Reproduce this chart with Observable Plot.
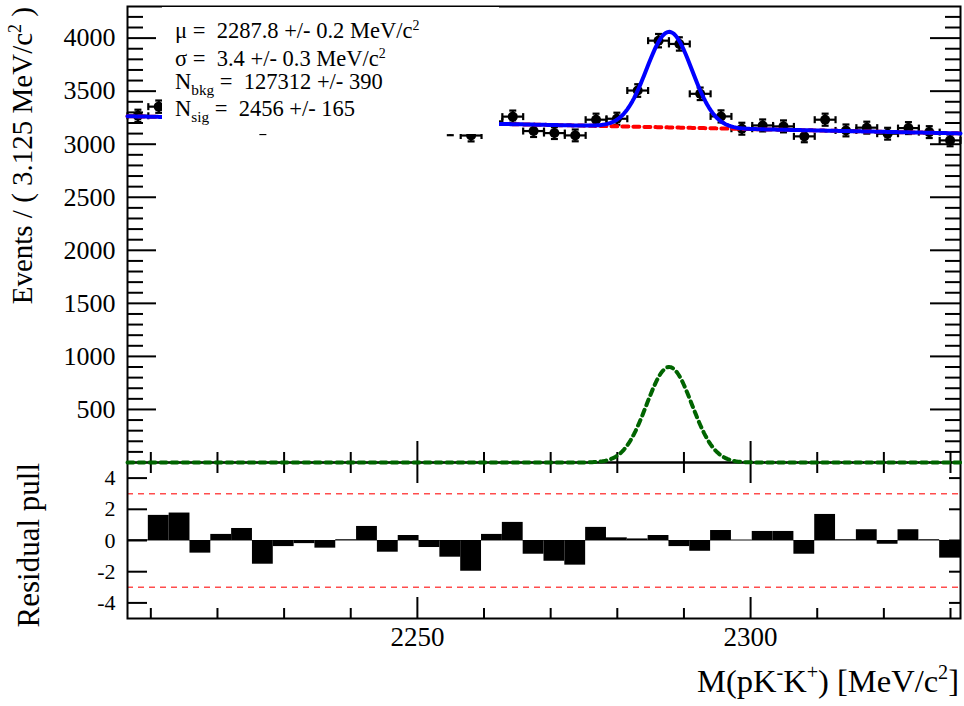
<!DOCTYPE html>
<html>
<head>
<meta charset="utf-8">
<script src="https://cdn.jsdelivr.net/npm/d3@7"></script>
<script src="https://cdn.jsdelivr.net/npm/@observablehq/plot@0.6"></script>
<style>
  html, body { margin: 0; padding: 0; background: white; }
  #chart {
    position: relative; width: 964px; height: 706px; overflow: hidden;
    background: white; color: black;
    font-family: "Liberation Serif", "Times New Roman", serif;
  }
  #chart svg { position: absolute; left: 0; }
  .txt { position: absolute; white-space: nowrap; line-height: 1; }
  .stat { line-height: 0.8; }
  .rot { transform-origin: 0 0; transform: rotate(-90deg); text-align: right; }
  .sup { position: relative; font-size: 62%; top: -0.62em; }
  .sub { position: relative; font-size: 68%; top: 0.38em; }
  #statbox { position: absolute; background: white; }
</style>
</head>
<body>
<div id="chart"></div>
<script>
// Binned invariant-mass spectrum
const massMin = 2206.5;
const massMax = 2331.5;
const binWidth = 3.125;

// Events per bin
const counts = [
  3268, 3354, 3355, 3204, 3268, 3286, 3152, 3211, 3218, 3198,
  3224, 3268, 3171, 3228, 3180, 3141, 3082, 3215, 3260, 3124,
  3105, 3083, 3231, 3240, 3506, 3976, 3945, 3475, 3262, 3146,
  3177, 3168, 3074, 3231, 3130, 3156, 3099, 3152, 3114, 3036
];

// Residual pull per bin
const pulls = [
  0.05, 1.61, 1.76, -0.81, 0.39, 0.77, -1.52, -0.39, -0.20, -0.49,
  0.05, 0.90, -0.75, 0.32, -0.45, -1.07, -1.97, 0.39, 1.16, -0.88,
  -1.33, -1.58, 0.84, 0.17, 0.10, 0.32, -0.39, -0.69, 0.64, 0.03,
  0.58, 0.58, -0.88, 1.67, 0.05, 0.69, -0.24, 0.69, 0.05, -1.13
];

// Fit results (Gaussian signal + linear background)
const fitMu = 2287.8, fitMuErr = 0.2;
const fitSigma = 3.4, fitSigmaErr = 0.3;
const fitNBkg = 127312, fitNBkgErr = 390;
const fitNSig = 2456, fitNSigErr = 165;
const bkgSlope = -1.296; // events per bin, per MeV/c^2

// Axis ticks
const xMajorTicks = [2250, 2300];
const xMinorTicks = [2210, 2220, 2230, 2240, 2260, 2270, 2280, 2290, 2310, 2320, 2330];
const yMajorTicks = [500, 1000, 1500, 2000, 2500, 3000, 3500, 4000];
const yMinorTicks = d3.range(100, 4300, 100).filter(v => v % 500 !== 0);
const pullTicks = [-4, -2, 0, 2, 4];
const pullBands = [-3, 3];

// ---------------------------------------------------------------
const bins = counts.map((n, i) => {
  const lo = massMin + i * binWidth;
  return {lo, hi: lo + binWidth, mid: lo + binWidth / 2, n, err: Math.sqrt(n), pull: pulls[i]};
});

const massCenter = (massMin + massMax) / 2;
const bkgModel = m => fitNBkg / counts.length + bkgSlope * (m - massCenter);
const sigModel = m => {
  const z = (m - fitMu) / fitSigma;
  return fitNSig * binWidth / (fitSigma * Math.sqrt(2 * Math.PI)) * Math.exp(-0.5 * z * z);
};
const curve = d3.range(massMin, massMax + 1e-9, 0.25).map(m => ({
  m, bkg: bkgModel(m), sig: sigModel(m), total: bkgModel(m) + sigModel(m)
}));

const serif = '"Liberation Serif", "Times New Roman", serif';
const W = 964, ML = 127, MR = 4;
const innerW = W - ML - MR;
const fmt = d => String(d);
const tickStyle = {stroke: "black", strokeWidth: 2};

// end caps of the error bars
const capV = {draw(ctx) { ctx.moveTo(0, -3.5); ctx.lineTo(0, 3.5); }};
const capH = {draw(ctx) { ctx.moveTo(-3.5, 0); ctx.lineTo(3.5, 0); }};
const capStyle = {fill: "none", stroke: "black", strokeWidth: 2.2};

// ---- mass spectrum with fit ----
const topH = 470, topMT = 6, topMB = 8;
const topInner = topH - topMT - topMB;

const topPlot = Plot.plot({
  width: W, height: topH,
  marginLeft: ML, marginRight: MR, marginTop: topMT, marginBottom: topMB,
  style: {background: "transparent", fontFamily: serif, color: "black", overflow: "visible"},
  x: {domain: [massMin, massMax], axis: null},
  y: {domain: [0, 4298]},
  marks: [
    Plot.frame({stroke: "black", strokeWidth: 2}),
    // y ticks, pointing inward on both sides
    Plot.tickY(yMinorTicks, {y: d => d, insetRight: innerW - 16, ...tickStyle}),
    Plot.tickY(yMajorTicks, {y: d => d, insetRight: innerW - 29, ...tickStyle}),
    Plot.tickY(yMinorTicks, {y: d => d, insetLeft: innerW - 15, ...tickStyle}),
    Plot.tickY(yMajorTicks, {y: d => d, insetLeft: innerW - 30, ...tickStyle}),
    // x ticks on the lower edge
    Plot.tickX(xMinorTicks, {x: d => d, insetTop: topInner - 10, ...tickStyle}),
    Plot.tickX(xMajorTicks, {x: d => d, insetTop: topInner - 21, ...tickStyle}),
    Plot.axisY({ticks: yMajorTicks, tickSize: 0, tickPadding: 12, tickFormat: fmt,
                fontSize: 26, fontFamily: serif, label: null}),
    // data points with error bars
    Plot.ruleY(bins, {x1: "lo", x2: "hi", y: "n", stroke: "black", strokeWidth: 2.2}),
    Plot.ruleX(bins, {x: "mid", y1: d => d.n - d.err, y2: d => d.n + d.err, stroke: "black", strokeWidth: 2.2}),
    Plot.dot(bins, {x: "lo", y: "n", symbol: capV, ...capStyle}),
    Plot.dot(bins, {x: "hi", y: "n", symbol: capV, ...capStyle}),
    Plot.dot(bins, {x: "mid", y: d => d.n - d.err, symbol: capH, ...capStyle}),
    Plot.dot(bins, {x: "mid", y: d => d.n + d.err, symbol: capH, ...capStyle}),
    Plot.dot(bins, {x: "mid", y: "n", r: 5, fill: "black"}),
    // fit components
    Plot.line(curve, {x: "m", y: "bkg", stroke: "#ff0000", strokeWidth: 4, strokeDasharray: "6,5"}),
    Plot.line(curve, {x: "m", y: "total", stroke: "#0000ff", strokeWidth: 4}),
    Plot.line(curve, {x: "m", y: "sig", stroke: "#006400", strokeWidth: 4, strokeDasharray: "6,5"})
  ]
});

// ---- residual pulls ----
const botTop = 440, botH = 266, botMT = 22, botMB = 88;
const botInner = botH - botMT - botMB;

const pullPlot = Plot.plot({
  width: W, height: botH,
  marginLeft: ML, marginRight: MR, marginTop: botMT, marginBottom: botMB,
  style: {background: "transparent", fontFamily: serif, color: "black", overflow: "visible"},
  x: {domain: [massMin, massMax]},
  y: {domain: [-5, 5]},
  marks: [
    Plot.ruleY(pullBands, {stroke: "#ff4d4d", strokeWidth: 1.5, strokeDasharray: "6,5"}),
    Plot.ruleY([0], {stroke: "#888", strokeWidth: 1}),
    Plot.rect(bins, {x1: "lo", x2: "hi", y1: 0, y2: "pull", fill: "black"}),
    Plot.frame({stroke: "black", strokeWidth: 2}),
    Plot.tickY(pullTicks, {y: d => d, insetRight: innerW - 20, ...tickStyle}),
    Plot.tickY(pullTicks, {y: d => d, insetLeft: innerW - 11, ...tickStyle}),
    Plot.tickX(xMinorTicks, {x: d => d, insetBottom: botInner - 11, ...tickStyle}),
    Plot.tickX(xMajorTicks, {x: d => d, insetBottom: botInner - 21, ...tickStyle}),
    Plot.tickX(xMinorTicks, {x: d => d, insetTop: botInner - 10, ...tickStyle}),
    Plot.tickX(xMajorTicks, {x: d => d, insetTop: botInner - 21, ...tickStyle}),
    Plot.axisY({ticks: pullTicks, tickSize: 0, tickPadding: 12, tickFormat: fmt,
                fontSize: 22, fontFamily: serif, label: null}),
    Plot.axisX({ticks: xMajorTicks, tickSize: 0, tickPadding: 8, tickFormat: fmt,
                fontSize: 27, fontFamily: serif, label: null})
  ]
});

const chart = document.getElementById("chart");
pullPlot.style.top = botTop + "px";
topPlot.style.top = "0px";
chart.appendChild(pullPlot);
chart.appendChild(topPlot);

// ---- fit-result box ----
const box = document.createElement("div");
box.id = "statbox";
Object.assign(box.style, {left: "162px", top: "7px", width: "337px", height: "127px"});
chart.appendChild(box);

function addText(html, css, cls = "txt") {
  const el = document.createElement("div");
  el.className = cls;
  el.innerHTML = html;
  Object.assign(el.style, css);
  chart.appendChild(el);
  return el;
}

// line-height 0.8: baseline sits 0.7375em below the top of the line box
const statFont = 22.5;
const statLines = [
  {html: `μ =&nbsp; ${fitMu} +/- ${fitMuErr} MeV/c<span class="sup">2</span>`, baseline: 39},
  {html: `σ =&nbsp; ${fitSigma} +/- ${fitSigmaErr} MeV/c<span class="sup">2</span>`, baseline: 67},
  {html: `N<span class="sub">bkg</span> =&nbsp; ${fitNBkg} +/- ${fitNBkgErr}`, baseline: 90},
  {html: `N<span class="sub">sig</span> =&nbsp; ${fitNSig} +/- ${fitNSigErr}`, baseline: 117}
];
for (const line of statLines) {
  addText(line.html, {
    left: "175px", top: (line.baseline - 0.7375 * statFont) + "px", fontSize: statFont + "px"
  }, "txt stat");
}

// ---- axis titles ----
addText(`Events / ( ${binWidth} MeV/c<span class="sup">2</span> )`, {
  left: (32 - 0.8375 * 29) + "px", top: (7 + 400) + "px", width: "400px", fontSize: "29px"
}, "txt rot");

addText(`Residual pull`, {
  left: (39 - 0.8375 * 31) + "px", top: (463 + 250) + "px", width: "250px", fontSize: "31px"
}, "txt rot");

addText(`M(pK<span class="sup">-</span>K<span class="sup">+</span>) [MeV/c<span class="sup">2</span>]`, {
  right: "5px", top: (692 - 0.8375 * 32.5) + "px", fontSize: "32.5px"
});
</script>
</body>
</html>
